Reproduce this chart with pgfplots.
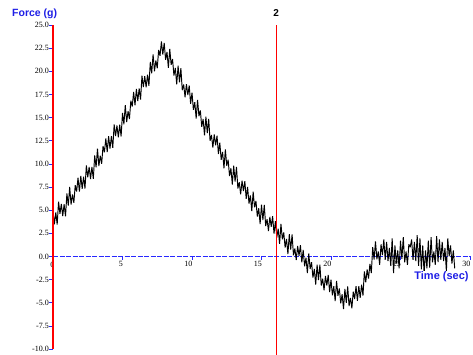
\documentclass[border=0pt]{standalone}
\usepackage{fontspec}
\setmainfont{Liberation Serif}
\newfontfamily\sansfont{Liberation Sans}
\usepackage{pgfplots}
\pgfplotsset{compat=1.18}
\definecolor{lblue}{RGB}{30,30,230}
\definecolor{tickblue}{RGB}{40,40,255}
\begin{document}
\begin{tikzpicture}
\begin{axis}[
  at={(0pt,0pt)}, anchor=south west,
  scale only axis, width=417pt, height=324pt,
  xmin=0, xmax=30, ymin=-10, ymax=25,
  axis x line=middle, axis y line=left,
  x axis line style={tickblue, dash pattern=on 5pt off 1.5pt, -, line width=0.6pt},
  y axis line style={red, -, line width=1.3pt},
  xtick={5,10,...,30}, ytick={-10,-7.5,...,25},
  tick align=outside, major tick length=3.5pt,
  tick style={tickblue, line width=0.7pt},
  hide obscured x ticks=false, hide obscured y ticks=false,
  /pgf/number format/assume math mode=true,
  ticklabel style={font=\fontsize{8}{9}\selectfont, fill=white, inner sep=0.5pt},
  yticklabel style={/pgf/number format/.cd, fixed, fixed zerofill, precision=1},
  xticklabel style={anchor=north east, xshift=1pt, yshift=-1pt},
  clip=false,
]
\addplot[black, line width=0.95pt, line join=bevel] coordinates {
(0.0,4.90)(0.1,3.48)(0.2,4.76)(0.3,3.44)(0.4,5.92)(0.5,4.60)(0.6,5.68)(0.7,4.36)(0.8,5.64)(0.9,4.32)
(1.0,6.80)(1.1,5.50)(1.2,7.50)(1.3,5.60)(1.4,6.70)(1.5,5.80)(1.6,7.70)(1.7,7.00)(1.8,8.50)(1.9,7.00)
(2.0,8.70)(2.1,7.31)(2.2,8.62)(2.3,7.33)(2.4,9.84)(2.5,8.55)(2.6,9.66)(2.7,8.37)(2.8,9.68)(2.9,8.39)
(3.0,10.90)(3.1,9.62)(3.2,11.64)(3.3,9.76)(3.4,10.88)(3.5,10.00)(3.6,11.92)(3.7,11.24)(3.8,12.76)(3.9,11.28)
(4.0,13.00)(4.1,11.64)(4.2,12.98)(4.3,11.72)(4.4,14.26)(4.5,13.00)(4.6,14.14)(4.7,12.88)(4.8,14.22)(4.9,12.96)
(5.0,15.50)(5.1,14.27)(5.2,16.34)(5.3,14.51)(5.4,15.68)(5.5,14.85)(5.6,16.82)(5.7,16.19)(5.8,17.76)(5.9,16.33)
(6.0,18.10)(6.1,16.78)(6.2,18.16)(6.3,16.94)(6.4,19.52)(6.5,18.30)(6.6,19.48)(6.7,18.26)(6.8,19.64)(6.9,18.42)
(7.0,21.00)(7.1,19.77)(7.2,21.83)(7.3,20.00)(7.4,21.17)(7.5,20.33)(7.6,22.30)(7.7,21.67)(7.8,23.23)(7.9,21.80)
(8.0,23.07)(8.1,21.23)(8.2,22.10)(8.3,20.37)(8.4,22.43)(8.5,20.70)(8.6,21.32)(8.7,19.54)(8.8,20.36)(8.9,18.58)
(9.0,20.60)(9.1,18.82)(9.2,20.34)(9.3,17.96)(9.4,18.58)(9.5,17.20)(9.6,18.62)(9.7,17.44)(9.8,18.46)(9.9,16.48)
(10.0,17.70)(10.1,15.83)(10.2,16.66)(10.3,14.89)(10.4,16.92)(10.5,15.15)(10.6,15.78)(10.7,14.01)(10.8,14.84)(10.9,13.07)
(11.0,15.10)(11.1,13.33)(11.2,14.86)(11.3,12.49)(11.4,13.12)(11.5,11.75)(11.6,13.18)(11.7,12.01)(11.8,13.04)(11.9,11.07)
(12.0,12.30)(12.1,10.44)(12.2,11.28)(12.3,9.52)(12.4,11.56)(12.5,9.80)(12.6,10.44)(12.7,8.68)(12.8,9.52)(12.9,7.76)
(13.0,9.80)(13.1,8.08)(13.2,9.66)(13.3,7.34)(13.4,8.02)(13.5,6.70)(13.6,8.18)(13.7,7.06)(13.8,8.14)(13.9,6.22)
(14.0,7.50)(14.1,5.70)(14.2,6.60)(14.3,4.90)(14.4,7.00)(14.5,5.30)(14.6,6.00)(14.7,4.30)(14.8,5.20)(14.9,3.50)
(15.0,5.60)(15.1,3.93)(15.2,5.56)(15.3,3.29)(15.4,4.02)(15.5,2.75)(15.6,4.28)(15.7,3.21)(15.8,4.34)(15.9,2.47)
(16.0,3.80)(16.1,2.05)(16.2,3.00)(16.3,1.35)(16.4,3.50)(16.5,1.85)(16.6,2.60)(16.7,0.95)(16.8,1.90)(16.9,0.25)
(17.0,2.40)(17.1,0.74)(17.2,2.38)(17.3,0.12)(17.4,0.86)(17.5,-0.40)(17.6,1.14)(17.7,0.08)(17.8,1.22)(17.9,-0.64)
(18.0,0.70)(18.1,-1.07)(18.2,-0.14)(18.3,-1.81)(18.4,0.32)(18.5,-1.35)(18.6,-0.62)(18.7,-2.29)(18.8,-1.36)(18.9,-3.03)
(19.0,-0.90)(19.1,-2.55)(19.2,-0.90)(19.3,-3.15)(19.4,-2.40)(19.5,-3.65)(19.6,-2.10)(19.7,-3.15)(19.8,-2.00)(19.9,-3.85)
(20.0,-2.50)(20.1,-4.21)(20.2,-3.22)(20.3,-4.83)(20.4,-2.64)(20.5,-4.25)(20.6,-3.46)(20.7,-5.07)(20.8,-4.08)(20.9,-5.69)
(21.0,-3.50)(21.1,-5.02)(21.2,-3.24)(21.3,-5.36)(21.4,-4.48)(21.5,-5.60)(21.6,-3.80)(21.7,-4.60)(21.8,-3.20)(21.9,-4.80)
(22.0,-3.20)(22.1,-4.48)(22.2,-3.06)(22.3,-4.24)(22.4,-1.62)(22.5,-2.80)(22.6,-1.40)(22.7,-2.40)(22.8,-0.80)(22.9,-1.80)
(23.0,1.00)(23.1,-0.33)(23.2,1.63)(23.3,-0.30)(23.4,0.53)(23.5,-0.90)(23.6,1.31)(23.7,0.14)(23.8,1.83)(23.9,-0.38)
(24.0,1.57)(24.1,-0.51)(24.2,0.92)(24.3,-1.03)(24.4,1.96)(24.5,-1.80)(24.6,1.18)(24.7,-0.77)(24.8,0.66)(24.9,-1.29)
(25.0,1.70)(25.1,-0.25)(25.2,2.09)(25.3,-0.64)(25.4,0.53)(25.5,-0.90)(25.6,1.31)(25.7,1.00)(25.8,1.83)(25.9,-0.38)
(26.0,1.57)(26.1,-0.51)(26.2,2.30)(26.3,-1.03)(26.4,1.96)(26.5,-1.40)(26.6,1.18)(26.7,-1.90)(26.8,0.66)(26.9,-1.29)
(27.0,1.70)(27.1,-1.20)(27.2,2.09)(27.3,-0.64)(27.4,0.53)(27.5,-0.90)(27.6,2.20)(27.7,-0.60)(27.8,1.83)(27.9,-0.38)
(28.0,1.57)(28.1,-0.51)(28.2,0.92)(28.3,-1.60)(28.4,1.96)(28.5,0.01)(28.6,1.18)(28.7,-0.77)(28.8,0.66)(28.9,-1.29)
};
\draw[red, line width=0.9pt] (axis cs:16.05,25) -- (axis cs:16.05,-10.6);
\node[font=\fontsize{8}{9}\selectfont, anchor=north, inner sep=0.5pt] at (axis cs:-0.05,-0.55) {0};
\node[font=\sansfont\bfseries\fontsize{10}{10}\selectfont] at (axis cs:16.05,26.3) {2};
\end{axis}
\fill[red] (-0.6pt,0pt) rectangle (0.6pt,324pt);
\node[anchor=west, text=lblue, fill=white, inner sep=1pt, font=\sansfont\bfseries\fontsize{10.5}{11}\selectfont] at (-42pt,335pt) {Force (g)};
\node[text=lblue, fill=white, inner sep=1pt, font=\sansfont\bfseries\fontsize{11}{12}\selectfont] at (388.5pt,72pt) {Time (sec)};
\pgfresetboundingbox
\path[use as bounding box] (-53pt,-5pt) rectangle (420pt,349pt);
\end{tikzpicture}
\end{document}
